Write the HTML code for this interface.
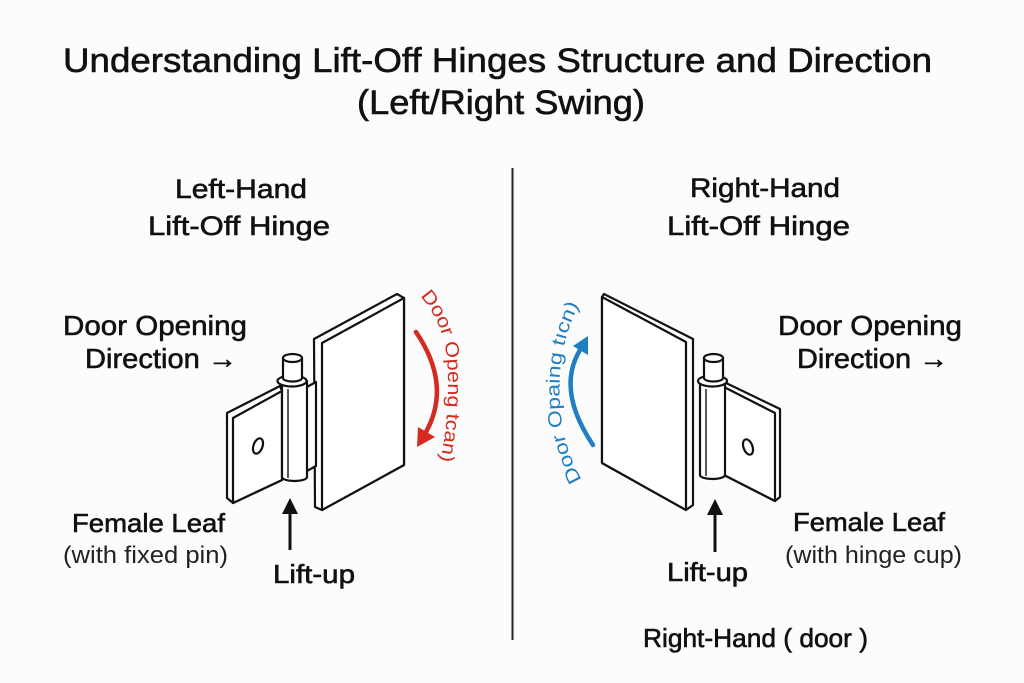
<!DOCTYPE html>
<html>
<head>
<meta charset="utf-8">
<style>
  html,body{margin:0;padding:0;background:#fcfcfc;}
  svg{display:block;}
  .t{font-family:"Liberation Sans","DejaVu Sans",sans-serif;fill:#111;stroke:#111;stroke-width:0.6px;}
  .l{font-family:"Liberation Sans","DejaVu Sans",sans-serif;fill:#222;}
  .h{fill:#fff;stroke:#111;stroke-width:2.2;stroke-linejoin:round;stroke-linecap:round;}
</style>
</head>
<body>
<svg width="1024" height="683" viewBox="0 0 1024 683" xmlns="http://www.w3.org/2000/svg">
  <rect width="1024" height="683" fill="#fcfcfc"/>

  <!-- Title -->
  <text class="t" x="63" y="72" font-size="34" textLength="869" lengthAdjust="spacingAndGlyphs">Understanding Lift-Off Hinges Structure and Direction</text>
  <text class="t" x="357" y="114" font-size="34" textLength="288" lengthAdjust="spacingAndGlyphs">(Left/Right Swing)</text>

  <!-- Divider -->
  <line x1="512.5" y1="168" x2="512.5" y2="640" stroke="#222" stroke-width="2"/>

  <!-- Left headings -->
  <text class="t" x="175" y="198" font-size="27" textLength="132" lengthAdjust="spacingAndGlyphs">Left-Hand</text>
  <text class="t" x="148" y="235" font-size="27" textLength="182" lengthAdjust="spacingAndGlyphs">Lift-Off Hinge</text>
  <text class="t" x="63" y="335" font-size="28" textLength="184" lengthAdjust="spacingAndGlyphs">Door Opening</text>
  <text class="t" x="85" y="368" font-size="28" textLength="152" lengthAdjust="spacingAndGlyphs">Direction →</text>

  <!-- Right headings -->
  <text class="t" x="690" y="197" font-size="27" textLength="150" lengthAdjust="spacingAndGlyphs">Right-Hand</text>
  <text class="t" x="667" y="235" font-size="27" textLength="183" lengthAdjust="spacingAndGlyphs">Lift-Off Hinge</text>
  <text class="t" x="778" y="335" font-size="28" textLength="184" lengthAdjust="spacingAndGlyphs">Door Opening</text>
  <text class="t" x="797" y="368" font-size="28" textLength="151" lengthAdjust="spacingAndGlyphs">Direction →</text>

  <!-- ===== Left hinge ===== -->
  <polygon class="h" points="314,339 397,294 404,298 404,465 322,510 315,507"/>
  <polygon class="h" points="322,343 404,298 404,465 322,510"/>
  <polygon class="h" points="305,388 316,382 316,466 305,472"/>
  <polygon class="h" points="227,413 280,386 282,391 282,480 233,503 227,498"/>
  <polygon class="h" points="233,418 282,391 282,480 233,503"/>
  <ellipse class="h" cx="258" cy="446" rx="4.5" ry="8" transform="rotate(20 258 446)"/>
  <path class="h" d="M282,381 L282,477 A12.5,4 0 0 0 307,477 L307,381 Z"/>
  <line x1="288" y1="389" x2="288" y2="478" stroke="#111" stroke-width="1.4"/>
  <ellipse class="h" cx="292" cy="381" rx="14.5" ry="5.5"/>
  <path class="h" d="M283,358 L283,378 A9.5,3.5 0 0 0 302,378 L302,358 Z"/>
  <ellipse class="h" cx="292.5" cy="358" rx="9.5" ry="4"/>

  <!-- red arrow + text -->
  <path d="M416,332 Q452,385 426,432" fill="none" stroke="#d42a20" stroke-width="4.5" stroke-linecap="round"/>
  <polygon points="417,447 418,427 435,437" fill="#d42a20"/>
  <path id="rp" d="M420,296 C440,318 448,345 448,380 C448,420 444,445 438,470" fill="none"/>
  <text class="l" font-size="19" style="fill:#d42a20"><textPath href="#rp" textLength="172" lengthAdjust="spacingAndGlyphs">Door Openg tcan)</textPath></text>

  <!-- left lift arrow -->
  <line x1="290" y1="550" x2="290" y2="510" stroke="#111" stroke-width="3"/>
  <polygon points="290,498 282,514 298,514" fill="#111"/>

  <!-- left bottom labels -->
  <text class="t" x="72" y="532" font-size="26" textLength="153" lengthAdjust="spacingAndGlyphs">Female Leaf</text>
  <text class="l" x="63" y="563" font-size="24" textLength="165" lengthAdjust="spacingAndGlyphs">(with fixed pin)</text>
  <text class="t" x="273" y="583" font-size="26" textLength="82" lengthAdjust="spacingAndGlyphs">Lift-up</text>

  <!-- ===== Right hinge ===== -->
  <polygon class="h" points="602,297 604,294 693,339 693,505 686,510 602,463"/>
  <polygon class="h" points="602,297 686,342 686,510 602,463"/>
  <polygon class="h" points="724,382 780,409 780,497 775,501 724,475"/>
  <polygon class="h" points="724,387 775,413 775,501 724,475"/>
  <ellipse class="h" cx="748" cy="447" rx="4.5" ry="8" transform="rotate(-20 748 447)"/>
  <path class="h" d="M700,381 L700,475 A12.5,4 0 0 0 725,475 L725,381 Z"/>
  <line x1="706" y1="389" x2="706" y2="476" stroke="#111" stroke-width="1.4"/>
  <ellipse class="h" cx="712.5" cy="381" rx="14.5" ry="5.5"/>
  <path class="h" d="M704,358 L704,378 A9.5,3.5 0 0 0 723,378 L723,358 Z"/>
  <ellipse class="h" cx="713.5" cy="358" rx="9.5" ry="4"/>

  <!-- blue arrow + text -->
  <path d="M593,445 Q556,390 580,350" fill="none" stroke="#1e7fc3" stroke-width="4.5" stroke-linecap="round"/>
  <polygon points="588,336 573,346 588,355" fill="#1e7fc3"/>
  <path id="bp" d="M582,480 C562,445 558,410 560,375 C562,345 570,320 584,296" fill="none"/>
  <text class="l" font-size="19" style="fill:#1e7fc3"><textPath href="#bp" textLength="182" lengthAdjust="spacingAndGlyphs">Door Opaing tıcn)</textPath></text>

  <!-- right lift arrow -->
  <line x1="715" y1="552" x2="715" y2="511" stroke="#111" stroke-width="3"/>
  <polygon points="715,499 707,515 723,515" fill="#111"/>

  <!-- right bottom labels -->
  <text class="t" x="667" y="581" font-size="26" textLength="81" lengthAdjust="spacingAndGlyphs">Lift-up</text>
  <text class="t" x="793" y="531" font-size="26" textLength="152" lengthAdjust="spacingAndGlyphs">Female Leaf</text>
  <text class="l" x="785" y="563" font-size="24" textLength="177" lengthAdjust="spacingAndGlyphs">(with hinge cup)</text>
  <text class="t" x="643" y="647" font-size="26" textLength="225" lengthAdjust="spacingAndGlyphs">Right-Hand ( door )</text>
</svg>
</body>
</html>
